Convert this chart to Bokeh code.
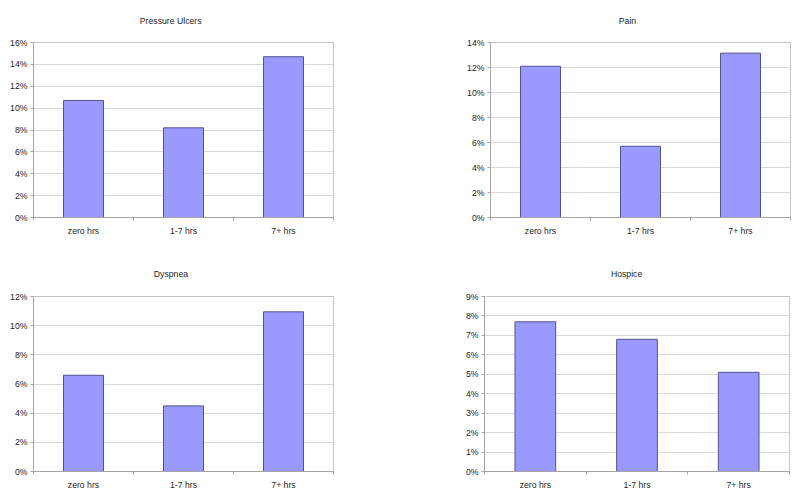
from bokeh.plotting import figure
from bokeh.models import Range1d, FixedTicker, NumeralTickFormatter, Title
from bokeh.layouts import column, row
from bokeh.embed import file_html
from bokeh.resources import INLINE

# ---- data ----
categories = ["zero hrs", "1-7 hrs", "7+ hrs"]
titles = ["Pressure Ulcers", "Pain", "Dyspnea", "Hospice"]
pressure_ulcers = [0.107, 0.082, 0.147]
pain = [0.121, 0.057, 0.1315]
dyspnea = [0.066, 0.045, 0.1095]
hospice = [0.077, 0.068, 0.051]
y_max = [0.16, 0.14, 0.12, 0.09]
y_step = [0.02, 0.02, 0.02, 0.01]

FONT = "Liberation Sans"
FS = "8.7px"
TXT = "#1e1e1e"
AXIS = "#a4a4a4"
GRID = "#d9d9d9"


def make(title, values, ymax, step, fw, left, right, top, bottom, t_off, t_stand):
    n = len(categories)
    p = figure(frame_width=fw, frame_height=175,
               x_range=Range1d(0, n), y_range=Range1d(0, ymax),
               output_backend="svg", toolbar_location=None,
               min_border_left=left, min_border_right=right,
               min_border_top=top, min_border_bottom=bottom,
               background_fill_color="white", border_fill_color="white",
               outline_line_color="#c4c4c4", outline_line_width=1)
    xs = [i + 0.5 for i in range(n)]
    p.vbar(x=xs, top=values, bottom=0, width=0.4,
           fill_color="#9999ff", line_color="#52528f", line_width=1)

    nt = int(round(ymax / step))
    yt = [round(i * step, 4) for i in range(nt + 1)]
    yticker = FixedTicker(ticks=yt)
    p.yaxis.ticker = yticker
    p.yaxis.formatter = NumeralTickFormatter(format="0%")
    p.ygrid.ticker = yticker
    p.ygrid.grid_line_color = GRID
    p.xgrid.visible = False

    xticker = FixedTicker(ticks=xs, minor_ticks=list(range(n + 1)))
    p.xaxis.ticker = xticker
    p.xaxis.major_label_overrides = {x: c for x, c in zip(xs, categories)}

    for ax in (p.xaxis, p.yaxis):
        ax.axis_line_color = AXIS
        ax.major_tick_line_color = AXIS
        ax.minor_tick_line_color = AXIS
        ax.major_label_text_font = FONT
        ax.major_label_text_font_size = FS
        ax.major_label_text_color = TXT
        ax.major_tick_in = 0
        ax.minor_tick_in = 0
    p.yaxis.major_tick_out = 3
    p.yaxis.minor_tick_out = 0
    p.yaxis.major_label_standoff = 3
    p.xaxis.major_tick_out = 0
    p.xaxis.minor_tick_out = 3
    p.xaxis.major_label_standoff = 5

    p.title = Title(text=title, align="left", offset=t_off, standoff=t_stand,
                    vertical_align="top", text_font=FONT, text_font_size=FS,
                    text_font_style="normal", text_color=TXT)
    return p


p1 = make(titles[0], pressure_ulcers, y_max[0], y_step[0], 300, 33, 67, 42, 33, 106.3, 29)
p2 = make(titles[1], pain, y_max[1], y_step[1], 300, 90, 10, 42, 33, 128.3, 29)
p3 = make(titles[2], dyspnea, y_max[2], y_step[2], 300, 33, 67, 46, 26, 120.3, 32)
p4 = make(titles[3], hospice, y_max[3], y_step[3], 305, 84, 11, 46, 26, 126.4, 32)

layout = column(row(p1, p2), row(p3, p4))

open("out.html", "w").write(file_html(layout, INLINE))
